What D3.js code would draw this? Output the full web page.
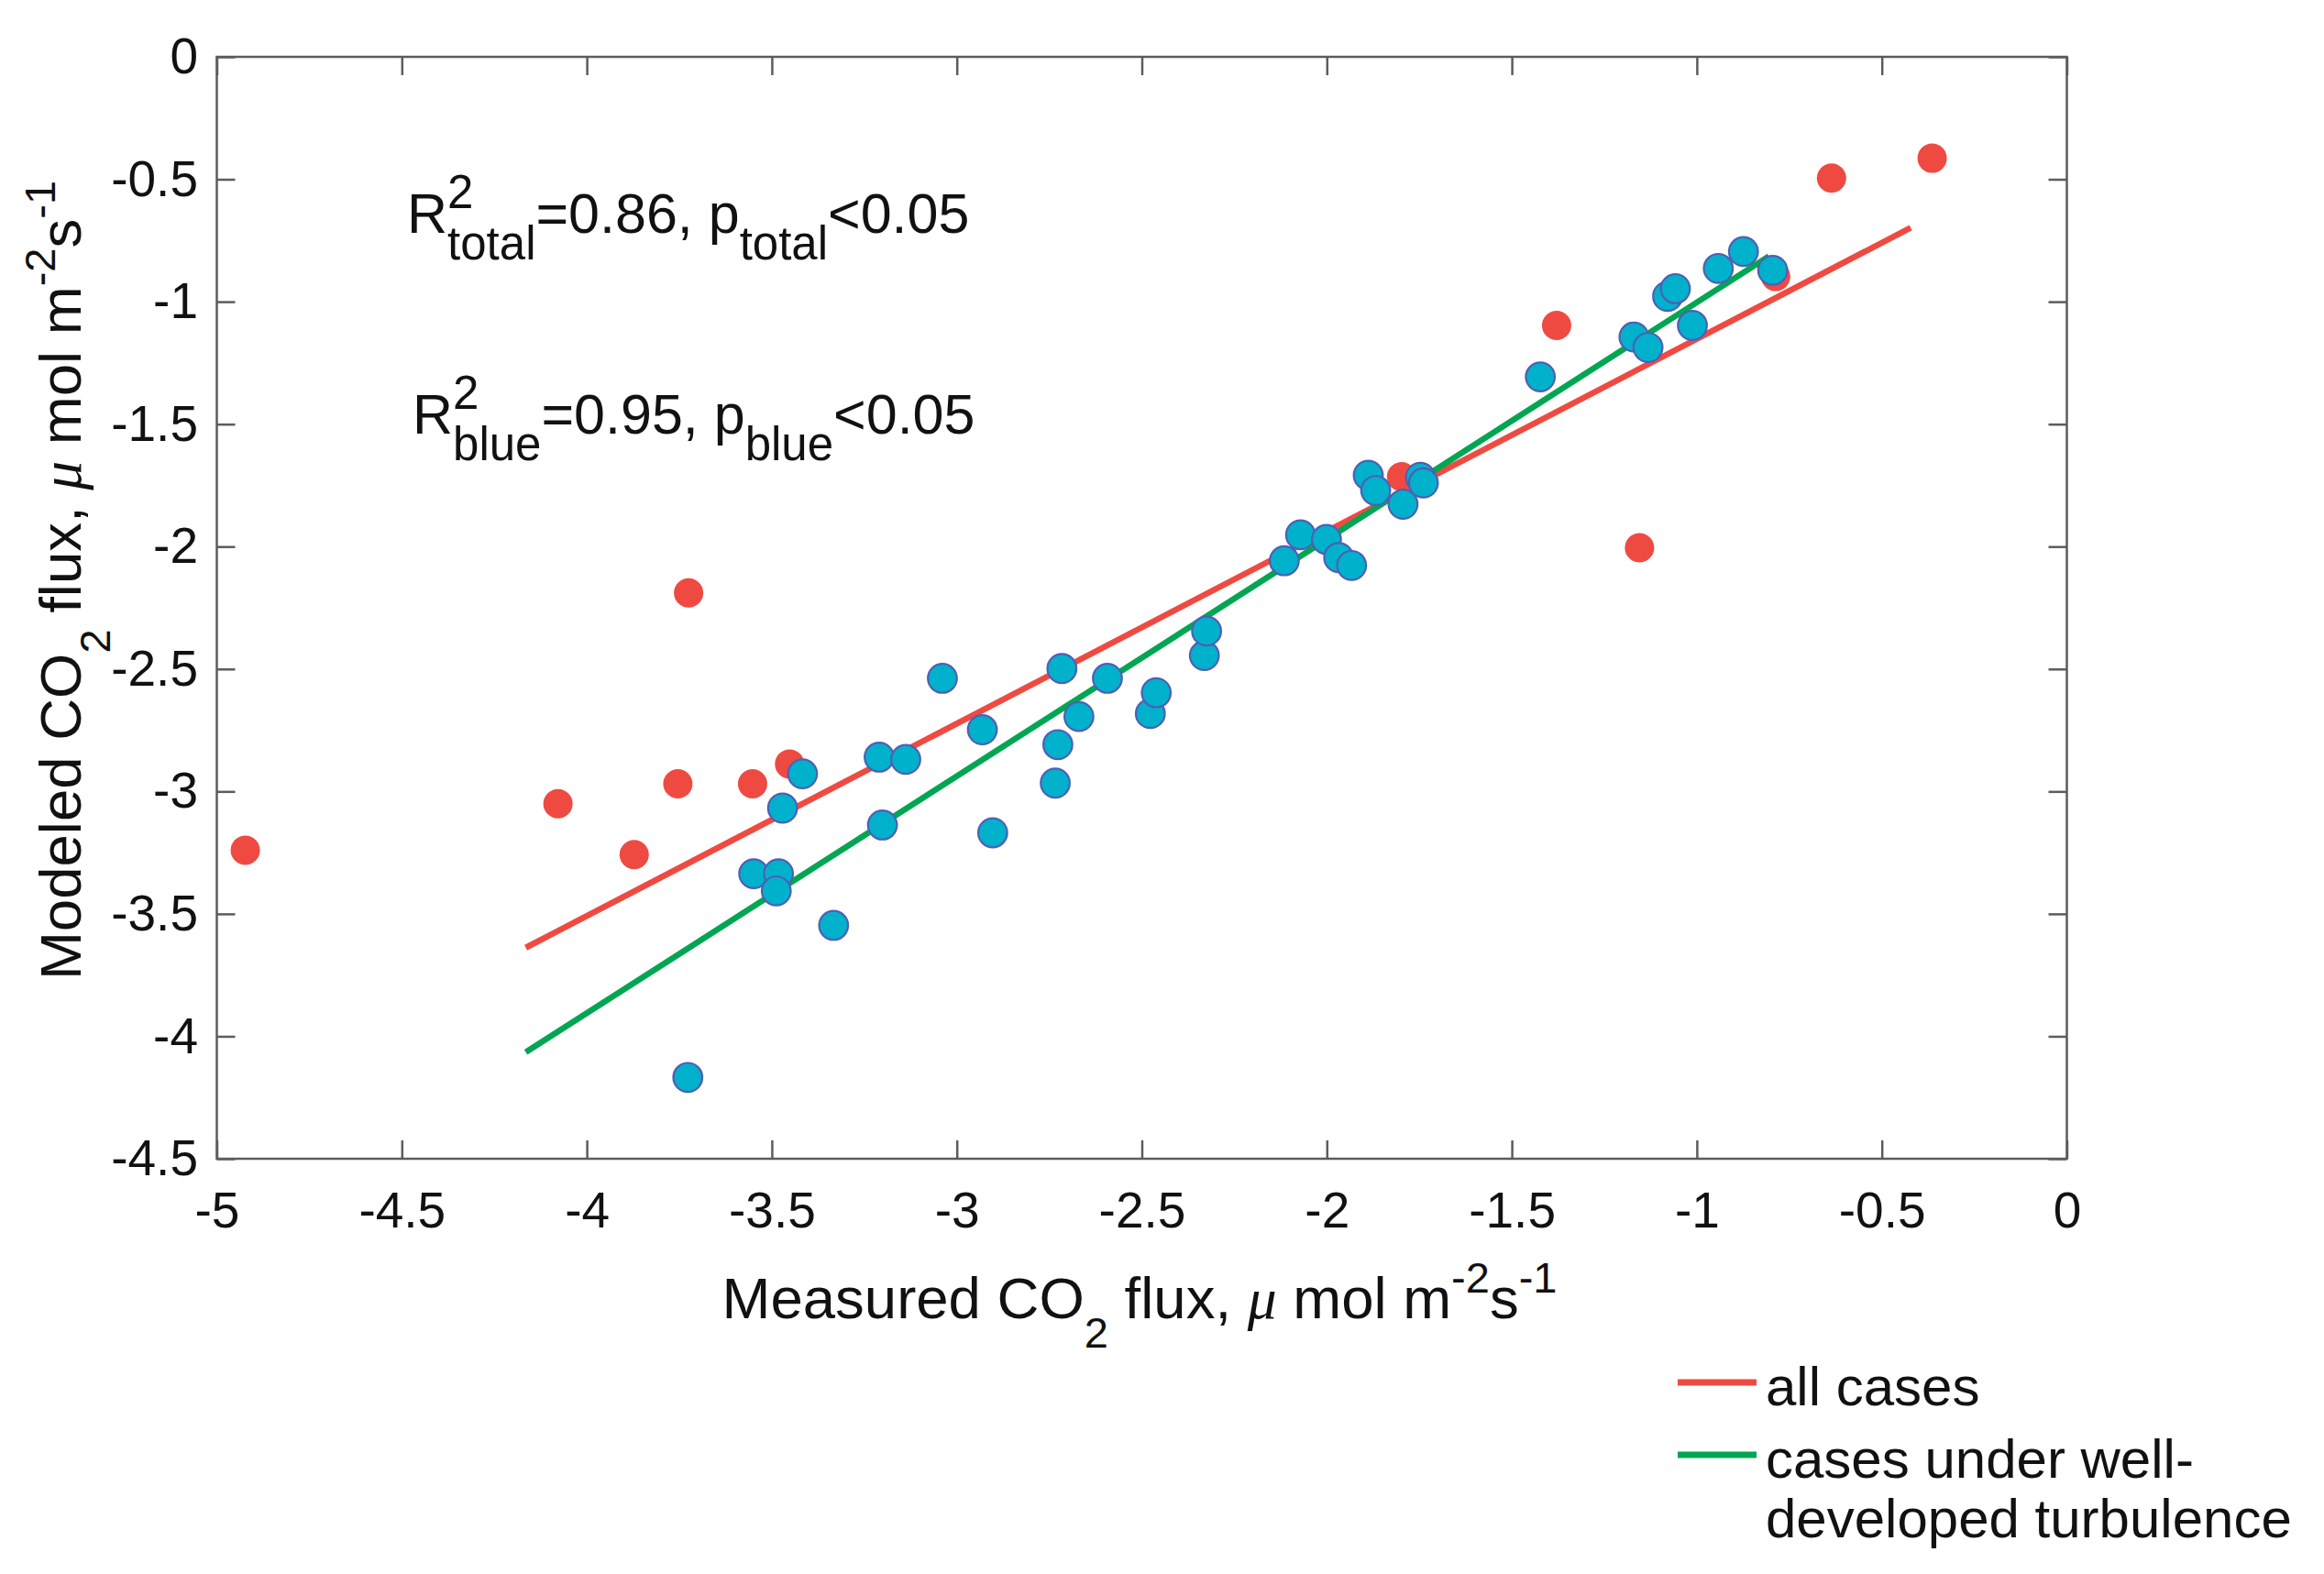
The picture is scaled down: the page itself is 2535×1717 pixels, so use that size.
<!DOCTYPE html>
<html>
<head>
<meta charset="utf-8">
<script src="https://cdn.jsdelivr.net/npm/d3@7"></script>
<style>
  html, body { margin: 0; padding: 0; background: #ffffff; }
  svg { display: block; }
  text { font-family: "Liberation Sans", Arial, Helvetica, sans-serif; fill: #111; }
</style>
</head>
<body>
<svg id="chart" width="2535" height="1717"></svg>
<script>
// ---------- data ----------
const xTickValues = [-5, -4.5, -4, -3.5, -3, -2.5, -2, -1.5, -1, -0.5, 0];
const xTickLabels = ["-5", "-4.5", "-4", "-3.5", "-3", "-2.5", "-2", "-1.5", "-1", "-0.5", "0"];
const yTickValues = [-4.5, -4, -3.5, -3, -2.5, -2, -1.5, -1, -0.5, 0];
const yTickLabels = ["-4.5", "-4", "-3.5", "-3", "-2.5", "-2", "-1.5", "-1", "-0.5", "0"];

// red points: all cases not under well-developed turbulence
const redMeasured = [-4.923, -4.078, -3.872, -3.754, -3.725, -3.552, -3.452, -1.798, -1.379, -1.155, -0.787, -0.636, -0.364];
const redModeled  = [-3.240, -3.050, -3.258, -2.969, -2.189, -2.969, -2.888, -1.715, -1.097, -2.005, -0.897, -0.495, -0.414];

// blue points: cases under well-developed turbulence
const blueMeasured = [-3.727, -3.549, -3.482, -3.488, -3.471, -3.417, -3.333, -3.210, -3.201, -3.138,
                      -3.039, -2.931, -2.903, -2.734, -2.727, -2.716, -2.670, -2.593, -2.477, -2.461,
                      -2.331, -2.325, -2.115, -2.071, -2.001, -1.968, -1.933, -1.888, -1.868, -1.794,
                      -1.747, -1.739, -1.423, -1.170, -1.132, -1.079, -1.058, -1.012, -0.942, -0.874,
                      -0.795];
const blueModeled  = [-4.168, -3.336, -3.336, -3.406, -3.068, -2.928, -3.547, -2.860, -3.137, -2.869,
                      -2.538, -2.748, -3.169, -2.966, -2.809, -2.498, -2.694, -2.538, -2.682, -2.597,
                      -2.445, -2.345, -2.058, -1.952, -1.971, -2.045, -2.077, -1.709, -1.771, -1.827,
                      -1.717, -1.740, -1.307, -1.144, -1.187, -0.978, -0.947, -1.097, -0.864, -0.795,
                      -0.872];

// regression lines (end points)
const fitAllX = [-4.165, -0.422];
const fitAllY = [-3.638, -0.698];
const fitBlueX = [-4.165, -0.805];
const fitBlueY = [-4.065, -0.814];

const legendLabels = ["all cases", "cases under well-", "developed turbulence"];

// ---------- layout ----------
const svg = d3.select("#chart");
const L = 236.5, R = 2254.5, T = 62, B = 1264;
const x = d3.scaleLinear().domain([-5, 0]).range([L, R]);
const y = d3.scaleLinear().domain([-4.5, 0]).range([B, T]);

const axisColor = "#5c5c5c";
const redColor = "#EF4A42";
const greenColor = "#00A651";
const blueFill = "#00B1CB";
const blueStroke = "#4F5FB5";

svg.append("rect").attr("width", 2535).attr("height", 1717).attr("fill", "#fff");

// axes
function styleAxis(g, showLabels) {
  g.select(".domain").remove();
  g.selectAll(".tick line").attr("stroke", axisColor).attr("stroke-width", 2.5);
  g.selectAll(".tick text")
    .attr("font-family", "'Liberation Sans', Arial, sans-serif")
    .attr("font-size", 55)
    .attr("fill", "#1a1a1a")
    .style("display", showLabels ? null : "none");
}
svg.append("g").attr("transform", `translate(0,${B})`)
  .call(d3.axisBottom(x).tickValues(xTickValues).tickFormat((d, i) => xTickLabels[i]).tickSize(-20).tickSizeOuter(0).tickPadding(36))
  .call(g => styleAxis(g, true));
svg.append("g").attr("transform", `translate(0,${T})`)
  .call(d3.axisTop(x).tickValues(xTickValues).tickSize(-20).tickSizeOuter(0))
  .call(g => styleAxis(g, false));
svg.append("g").attr("transform", `translate(${L},0)`)
  .call(d3.axisLeft(y).tickValues(yTickValues).tickFormat((d, i) => yTickLabels[i]).tickSize(-20).tickSizeOuter(0).tickPadding(20.5))
  .call(g => styleAxis(g, true));
svg.append("g").attr("transform", `translate(${R},0)`)
  .call(d3.axisRight(y).tickValues(yTickValues).tickSize(-20).tickSizeOuter(0))
  .call(g => styleAxis(g, false));

svg.append("rect")
  .attr("x", L).attr("y", T).attr("width", R - L).attr("height", B - T)
  .attr("fill", "none").attr("stroke", axisColor).attr("stroke-width", 2.5);

// regression lines
const line = d3.line().x(d => x(d[0])).y(d => y(d[1]));
svg.append("path").datum(fitAllX.map((v, i) => [v, fitAllY[i]]))
  .attr("d", line).attr("fill", "none").attr("stroke", redColor).attr("stroke-width", 6.5);
svg.append("path").datum(fitBlueX.map((v, i) => [v, fitBlueY[i]]))
  .attr("d", line).attr("fill", "none").attr("stroke", greenColor).attr("stroke-width", 6.5);

// points
svg.append("g").selectAll("circle")
  .data(redMeasured.map((v, i) => [v, redModeled[i]]))
  .join("circle")
  .attr("cx", d => x(d[0])).attr("cy", d => y(d[1])).attr("r", 16)
  .attr("fill", redColor);
svg.append("g").selectAll("circle")
  .data(blueMeasured.map((v, i) => [v, blueModeled[i]]))
  .join("circle")
  .attr("cx", d => x(d[0])).attr("cy", d => y(d[1])).attr("r", 15.8)
  .attr("fill", blueFill).attr("stroke", blueStroke).attr("stroke-width", 2.2);

// annotations R^2_sub ...
function annot(x0, base, sub, val) {
  const t = svg.append("text").attr("x", x0).attr("y", base).attr("font-size", 61);
  const rSpan = t.append("tspan").text("R");
  const wR = rSpan.node().getComputedTextLength();
  t.append("tspan").attr("x", x0 + wR).attr("y", base - 27).attr("font-size", 51).text("2");
  t.append("tspan").attr("x", x0 + wR).attr("y", base + 29).attr("font-size", 51).text(sub);
  t.append("tspan").attr("y", base).text("=" + val + ", p");
  t.append("tspan").attr("y", base + 29).attr("font-size", 51).text(sub);
  t.append("tspan").attr("y", base).text("<0.05");
}
annot(444, 254, "total", "0.86");
annot(450, 473, "blue", "0.95");

// axis labels
function axisLabel(sel, first) {
  sel.append("tspan").text(first + " CO");
  sel.append("tspan").attr("dy", 32).attr("font-size", 47).text("2");
  sel.append("tspan").attr("dy", -32).text(" flux, ");
  sel.append("tspan").attr("font-family", "'Liberation Serif', 'DejaVu Serif', serif").attr("font-style", "italic").text("\u03BC");
  sel.append("tspan").text(" mol m");
  sel.append("tspan").attr("dy", -28).attr("font-size", 47).text("-2");
  sel.append("tspan").attr("dy", 28).text("s");
  sel.append("tspan").attr("dy", -28).attr("font-size", 47).text("-1");
}
svg.append("text").attr("x", 1243).attr("y", 1438).attr("font-size", 63.5).attr("text-anchor", "middle")
  .call(axisLabel, "Measured");
svg.append("text").attr("transform", "translate(88,633) rotate(-90)").attr("font-size", 63.5).attr("text-anchor", "middle")
  .call(axisLabel, "Modeled");

// legend
const legendColors = [redColor, greenColor];
const legendLineY = [1508, 1587];
legendColors.forEach((c, i) => {
  svg.append("line").attr("x1", 1830).attr("x2", 1916)
    .attr("y1", legendLineY[i]).attr("y2", legendLineY[i])
    .attr("stroke", c).attr("stroke-width", 7);
});
const legendBase = [1533, 1612, 1677];
legendLabels.forEach((s, i) => {
  svg.append("text").attr("x", 1926).attr("y", legendBase[i]).attr("font-size", 60).text(s);
});
</script>
</body>
</html>
